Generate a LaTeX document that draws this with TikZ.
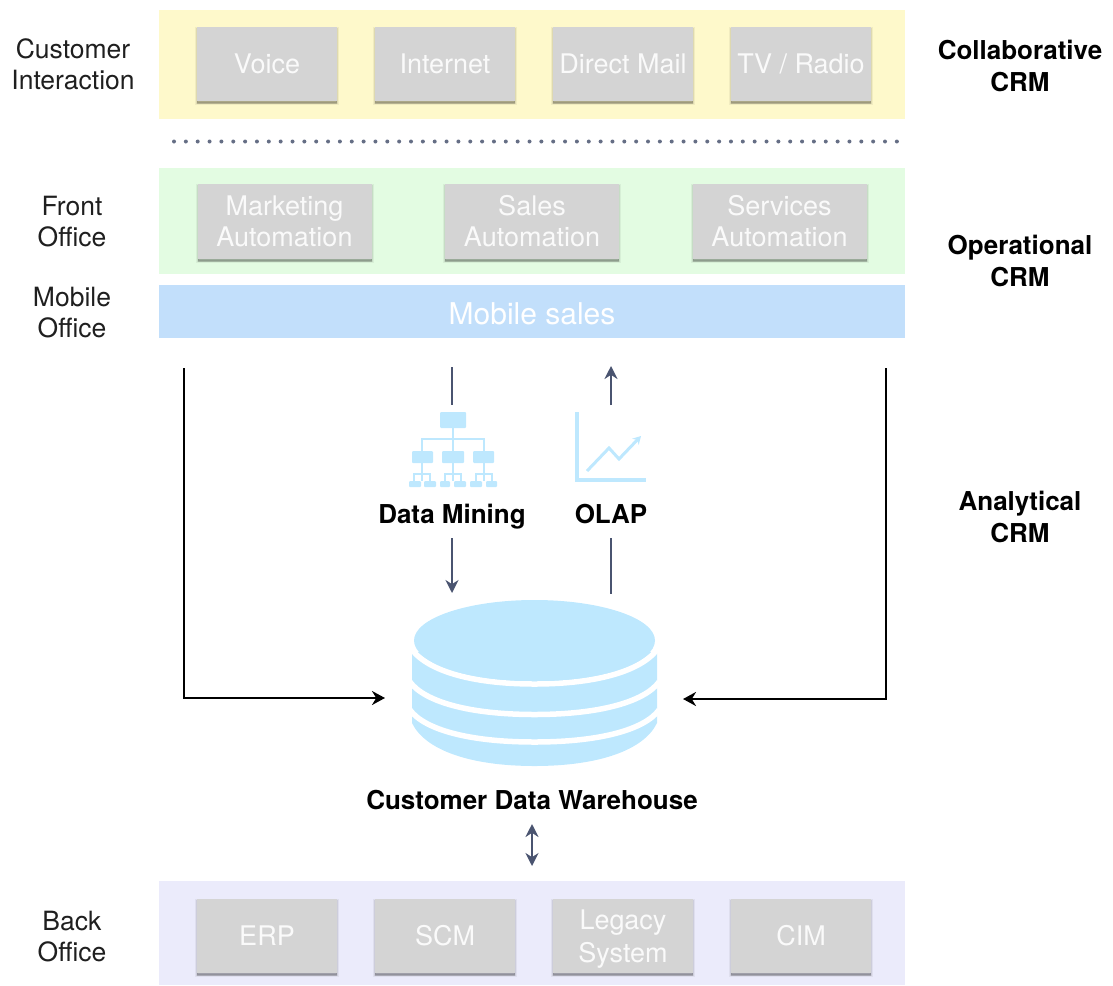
\documentclass[tikz,border=0pt]{standalone}
\usepackage{fontspec}
\setmainfont{TeX Gyre Heros}
\usetikzlibrary{arrows.meta,shadows,shapes.geometric}
\definecolor{ink}{HTML}{4A5470}
\definecolor{sky}{HTML}{BEE8FE}
\definecolor{boxgray}{HTML}{D4D4D4}
\definecolor{bandyellow}{HTML}{FEF9CB}
\definecolor{bandgreen}{HTML}{E3FCE2}
\definecolor{bandblue}{HTML}{C2DFFB}
\definecolor{bandviolet}{HTML}{EBEBFB}
\definecolor{boxtext}{HTML}{FAFAFA}
\tikzset{
  band/.style={fill=#1,inner sep=0pt,minimum width=746pt},
  softshadow/.style={
    general shadow={fill=black,opacity=.05,shadow xshift=0pt,shadow yshift=-2pt,draw=black,line width=4pt},
    general shadow={fill=black,opacity=.08,shadow xshift=0pt,shadow yshift=-2pt,draw=black,line width=2pt},
    general shadow={fill=black,opacity=.18,shadow xshift=0pt,shadow yshift=-3pt}},
  cardbox/.style={softshadow,fill=boxgray,inner sep=0pt,text=boxtext,align=center,
    font=\fontsize{27}{31}\selectfont},
  smallcard/.style={cardbox,minimum width=140pt,minimum height=74pt},
  widecard/.style={cardbox,minimum width=174pt,minimum height=75pt},
  sidelabel/.style={inner sep=0pt,align=center,font=\fontsize{26.5}{31}\selectfont,text=black!88},
  boldlabel/.style={inner sep=0pt,align=center,font=\fontsize{26}{32}\selectfont\bfseries,text=black},
  flowline/.style={draw=ink,line width=2.9pt},
  flowarrow/.style={flowline,-{Stealth[length=13pt,width=13pt]}},
  flowboth/.style={flowline,{Stealth[length=13pt,width=13pt]}-{Stealth[length=13pt,width=13pt]}},
  feedarrow/.style={draw=black,line width=2.6pt,-{Stealth[length=13pt,width=14pt]}},
  iconline/.style={draw=sky,line width=2.2pt},
  iconbox/.style={fill=sky,rounded corners=1pt},
}
\begin{document}
\begin{tikzpicture}[x=1pt,y=-1pt]
\useasboundingbox (0,0) rectangle (1113,985);
% bands
\node[band=bandyellow,minimum height=109pt] (collab) at (532,64.5) {};
\node[band=bandgreen,minimum height=106pt] (front) at (532,221) {};
\node[band=bandblue,minimum height=53pt,text=white,font=\fontsize{30}{36}\selectfont] (mobile) at (532,311.5) {\rule{0pt}{27pt}Mobile sales};
\node[band=bandviolet,minimum height=104pt] (back) at (532,933) {};
% cards
\node[smallcard] (voice) at (267,64) {Voice};
\node[smallcard] (internet) at (445,64) {Internet};
\node[smallcard] (mail) at (623,64) {Direct Mail};
\node[smallcard] (tv) at (801,64) {TV / Radio};
\node[widecard] (marketing) at (284.5,221.5) {Marketing\\Automation};
\node[widecard] (sales) at (532,221.5) {Sales\\Automation};
\node[widecard] (services) at (779.5,221.5) {Services\\Automation};
\node[smallcard] (erp) at (267,936) {ERP};
\node[smallcard] (scm) at (445,936) {SCM};
\node[smallcard] (legacy) at (623,936) {\rule{0pt}{25pt}Legacy\\[2pt]System};
\node[smallcard] (cim) at (801,936) {CIM};
% dotted separator
\foreach \i in {0,...,61} \fill[ink!85] (174+11.85*\i,141.5) circle (2pt);
% left labels
\node[sidelabel] (lcustomer) at (73,64.5) {Customer\\Interaction};
\node[sidelabel] (lfront) at (72,222) {Front\\Office};
\node[sidelabel] (lmobile) at (72,313) {Mobile\\Office};
\node[sidelabel] (lback) at (72,937) {Back\\Office};
% right labels
\node[boldlabel] (rcollab) at (1020,66) {Collaborative\\CRM};
\node[boldlabel] (roper) at (1020,261) {Operational\\CRM};
\node[boldlabel] (rana) at (1020,517) {Analytical\\CRM};
% centre labels
\node[boldlabel] (mining) at (452,517) {Data Mining};
\node[boldlabel] (olap) at (611,514) {OLAP};
\node[boldlabel] (warehouse) at (532,800) {Customer Data Warehouse};
% database
\fill[sky] (412,652) -- (412,723) .. controls (425,750) and (470,766) .. (534.5,766)
  .. controls (599,766) and (644,750) .. (657,723) -- (657,652) -- cycle;
\draw[white,line width=5.5pt] (410,647) .. controls (425,670) and (470,684) .. (534.5,684)
  .. controls (599,684) and (644,670) .. (659,647);
\draw[white,line width=5.5pt] (410,682) .. controls (425,702) and (470,714.5) .. (534.5,714.5)
  .. controls (599,714.5) and (644,702) .. (659,682);
\draw[white,line width=5.5pt] (410,710) .. controls (425,730) and (470,742) .. (534.5,742)
  .. controls (599,742) and (644,730) .. (659,710);
\node[fill=sky,ellipse,inner sep=0pt,minimum width=241pt,minimum height=81pt] (db) at (534.5,640.5) {};
\coordinate (dbleft) at (385,698);
\coordinate (dbright) at (683,699);
\coordinate (dbtopl) at (452,593);
\coordinate (dbtopr) at (611,594);
\coordinate (dbunder) at (532,824);
\coordinate (backtop) at (532,866);
% data mining icon
\draw[iconline] (453,428) -- (453,451) (422,451) -- (422,439) -- (484,439) -- (484,451);
\foreach \c in {422,453,484}{
  \draw[iconline] (\c,463) -- (\c,474);
  \draw[draw=sky,line width=1.6pt] (\c,474) -- (\c,481) (\c-8,481) -- (\c-8,474) -- (\c+8,474) -- (\c+8,481);
}
\fill[iconbox] (440,412) rectangle (466,428);
\fill[iconbox] (412,451) rectangle (433,463);
\fill[iconbox] (442,451) rectangle (464,463);
\fill[iconbox] (473,451) rectangle (494,463);
\foreach \a/\b in {409/421,424/436,440/450,454/466,470/482,486/497}
  \fill[iconbox] (\a,481) rectangle (\b,487);
% OLAP icon
\draw[draw=sky,line width=3.4pt] (577,412) -- (577,480) -- (646,480);
\draw[draw=sky,line width=3pt,-{Stealth[length=8pt,width=9pt]}] (587,471) -- (609,448) -- (619,459) -- (641,436);
% connectors
\coordinate (minetop) at (452,367);
\coordinate (minebot) at (452,405);
\coordinate (olaptip) at (611,366);
\coordinate (olapbase) at (611,405);
\coordinate (minelow) at (452,538);
\coordinate (olaplow) at (611,538);
\coordinate (leftstart) at (184,368);
\coordinate (leftcorner) at (184,698);
\coordinate (rightstart) at (886,368);
\coordinate (rightcorner) at (886,699);
\draw[flowline] (minetop) -- (minebot);
\draw[flowarrow] (olapbase) -- (olaptip);
\draw[flowarrow] (minelow) -- (dbtopl);
\draw[flowline] (olaplow) -- (dbtopr);
\draw[flowboth] (dbunder) -- (backtop);
\draw[feedarrow] (leftstart) -- (leftcorner) -- (dbleft);
\draw[feedarrow] (rightstart) -- (rightcorner) -- (dbright);
\end{tikzpicture}
\end{document}
